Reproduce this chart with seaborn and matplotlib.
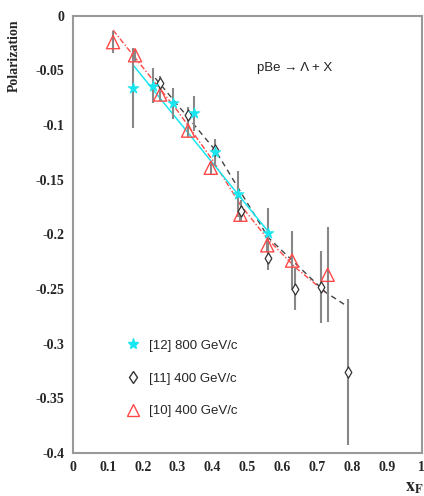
import matplotlib
matplotlib.use("Agg")
import matplotlib.pyplot as plt
import seaborn as sns
from matplotlib.lines import Line2D
from matplotlib.ticker import MultipleLocator

# [12] 800 GeV/c
x12 = [0.172, 0.230, 0.287, 0.348, 0.408, 0.473, 0.560]
y12 = [-0.066, -0.064, -0.080, -0.089, -0.125, -0.163, -0.199]
e12 = [0.037, 0.016, 0.014, 0.016, 0.012, 0.021, 0.023]

# [11] 400 GeV/c
x11 = [0.250, 0.330, 0.408, 0.483, 0.560, 0.635, 0.710, 0.787]
y11 = [-0.061, -0.091, -0.123, -0.179, -0.222, -0.250, -0.248, -0.326]
e11 = [0.006, 0.008, 0.008, 0.010, 0.011, 0.019, 0.033, 0.067]

# [10] 400 GeV/c
x10 = [0.115, 0.178, 0.250, 0.330, 0.395, 0.480, 0.557, 0.628, 0.730]
y10 = [-0.024, -0.036, -0.072, -0.105, -0.139, -0.182, -0.210, -0.224, -0.237]
e10 = [0.010, 0.006, 0.006, 0.006, 0.006, 0.006, 0.006, 0.027, 0.0435]

# fit curves
fit12_x = [0.175, 0.566]
fit12_y = [-0.046, -0.200]
fit11_x = [0.236, 0.408, 0.560, 0.724, 0.782]
fit11_y = [-0.057, -0.123, -0.203, -0.253, -0.265]
fit10_x = [0.115, 0.300, 0.400, 0.480, 0.560, 0.640, 0.724]
fit10_y = [-0.013, -0.087, -0.132, -0.173, -0.205, -0.231, -0.253]

red = "#ff4848"
cyan = "#18e6f0"
gray = "#888888"

sns.set_style("white")
plt.rcParams["mathtext.fontset"] = "stix"
fig = plt.figure(figsize=(4.24, 4.96), dpi=100)
ax = fig.add_axes([0.172, 0.087, 0.823, 0.881])

sns.lineplot(x=fit10_x, y=fit10_y, ax=ax, color=red, lw=1.0, linestyle=(0, (4, 1.5, 1, 1.5)))
sns.lineplot(x=fit11_x, y=fit11_y, ax=ax, color="#444444", lw=1.0, linestyle=(0, (4, 3)))
sns.lineplot(x=fit12_x, y=fit12_y, ax=ax, color=cyan, lw=1.1)

ax.errorbar(x10, y10, yerr=e10, fmt="none", ecolor=gray, elinewidth=1.5, zorder=2)
ax.errorbar(x11, y11, yerr=e11, fmt="none", ecolor=gray, elinewidth=1.5, zorder=2)
ax.errorbar(x12, y12, yerr=e12, fmt="none", ecolor=gray, elinewidth=1.5, zorder=2)

sns.scatterplot(x=x10, y=y10, ax=ax, marker="^", s=90, facecolor="none",
                edgecolor=red, linewidth=1.0, zorder=4)
sns.scatterplot(x=x11, y=y11, ax=ax, marker="d", s=32, facecolor="white",
                edgecolor="#333333", linewidth=0.9, zorder=4)
sns.scatterplot(x=x12, y=y12, ax=ax, marker="*", s=70, color=cyan,
                edgecolor=cyan, linewidth=0.5, zorder=5)

ax.set_xlim(0, 1)
ax.set_ylim(-0.4, 0)
ax.xaxis.set_minor_locator(MultipleLocator(0.02))
ax.yaxis.set_minor_locator(MultipleLocator(0.025))
ax.set_xticks([0, 0.1, 0.2, 0.3, 0.4, 0.5, 0.6, 0.7, 0.8, 0.9, 1.0])
ax.set_xticklabels(["0", "0.1", "0.2", "0.3", "0.4", "0.5", "0.6", "0.7", "0.8", "0.9", "1"])
ax.set_yticks([0, -0.05, -0.1, -0.15, -0.2, -0.25, -0.3, -0.35, -0.4])
ax.set_yticklabels(["0", "-0.05", "-0.1", "-0.15", "-0.2", "-0.25", "-0.3", "-0.35", "-0.4"])
ax.tick_params(which="both", direction="in", color=gray, labelsize=10, pad=6)
ax.tick_params(which="major", length=6, width=1)
ax.tick_params(which="minor", length=3, width=1)
for lab in ax.get_xticklabels() + ax.get_yticklabels():
    lab.set_fontfamily("Liberation Serif")
    lab.set_fontweight("bold")
for sp in ax.spines.values():
    sp.set_color("#999999")
    sp.set_linewidth(1.5)

ax.text(0.635, -0.0476, "pBe \u2192 \u039b + X", fontsize=9.5, ha="center", va="center",
        family="Liberation Sans", color="#222222")

fig.text(0.033, 0.887, "Polarization", rotation=90, ha="center", va="center",
         fontsize=10, fontweight="bold", family="Liberation Serif")
fig.text(0.978, 0.018, r"$\mathbf{x_F}$", ha="center", va="center", fontsize=13)

handles = [
    Line2D([], [], marker="*", color=cyan, linestyle="none", markersize=8),
    Line2D([], [], marker="d", markerfacecolor="white", markeredgecolor="#333333",
           linestyle="none", markersize=6),
    Line2D([], [], marker="^", markerfacecolor="none", markeredgecolor=red,
           linestyle="none", markersize=9),
]
labels = ["[12] 800 GeV/c", "[11] 400 GeV/c", "[10] 400 GeV/c"]
ax.legend(handles, labels, loc="upper left", bbox_to_anchor=(0.115, 0.286), frameon=False,
          prop={"family": "Liberation Sans", "size": 9.5}, labelspacing=1.55,
          handletextpad=0.6, handlelength=1.2)

fig.savefig("out.png", dpi=100)
